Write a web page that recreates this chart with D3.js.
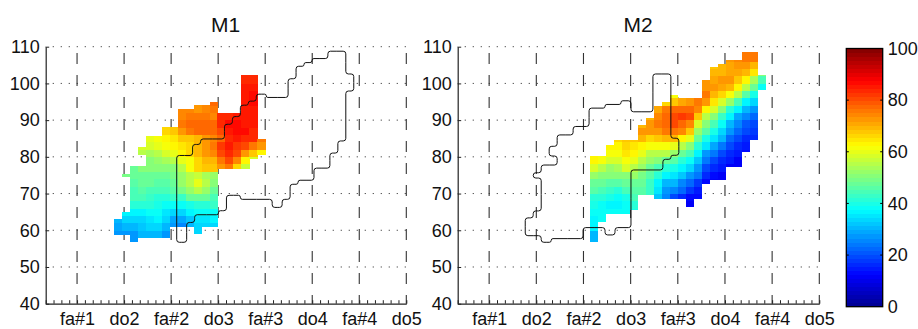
<!DOCTYPE html>
<html><head><meta charset="utf-8">
<script src="https://cdn.jsdelivr.net/npm/d3@7"></script>
<style>html,body{margin:0;padding:0;background:#fff}svg{display:block}text{font-family:"Liberation Sans",Arial,sans-serif;fill:#111}</style>
</head><body><svg id="c" width="918" height="329"></svg>
<script>
const _ = null;
const noteLabels = ["fa#1","do2","fa#2","do3","fa#3","do4","fa#4","do5"];
const noteSemitones = [0,6,12,18,24,30,36,42];
const dbTicks = [40,50,60,70,80,90,100,110];
const barTicks = [0,20,40,60,80,100];
const panelTitles = ["M1","M2"];
const gridStart = 4.72, gridStep = 1.015;   // semitone position of the first data column, and column pitch
const m2ColumnOffset = 8;
const rowStep = 2, rowBase = 56;

// [lowDb, highDb] extents of each column
const m1Spans = [
 [[58.8,63.1]],[[58.8,65],[74.5,75.4]],[[57,77.5]],[[58,77.5],[80.5,82.6]],[[58,85.7]],[[58,85.7]],[[58,88]],
 [[61,88]],[[61,93]],[[61,93]],[[59,94]],[[61,94]],[[61,95]],[[76.7,92]],[[76.7,92]],[[76.7,92]],
 [[76.7,102.3]],[[79.6,102.3]],[[80.7,84.8]]];
// rows from 56 dB upward in 2 dB steps, columns left to right
const m1Values = [
 [_,_,27,_,_,_,_,_,_,_,_,_,_,_,_,_,_,_,_],
 [28,28,28,30,31,30,28,_,_,_,33,_,_,_,_,_,_,_,_],
 [29,30,30,32,34,33,30,27,25,30,34,33,33,_,_,_,_,_,_],
 [31,33,33,33,35,36,33,29,29,32,35,35,36,_,_,_,_,_,_],
 [_,36,37,37,38,38,35,34,34,36,38,38,39,_,_,_,_,_,_],
 [_,_,42,42,41,40,39,39,38,40,42,42,43,_,_,_,_,_,_],
 [_,_,44,44,43,42,42,43,43,47,48,47,45,_,_,_,_,_,_],
 [_,_,45,46,45,44,44,46,49,53,56,52,48,_,_,_,_,_,_],
 [_,_,46,47,47,46,46,48,52,56,60,55,50,_,_,_,_,_,_],
 [_,49,48,48,48,47,47,49,52,55,57,54,52,_,_,_,_,_,_],
 [_,_,47,50,50,50,50,50,56,62,66,68,68,73,76,66,57,_,_],
 [_,_,_,_,51,53,54,55,60,62,66,70,70,76,80,74,63,58,_],
 [_,_,_,56,54,56,58,60,63,67,70,72,74,80,83,80,73,68,64],
 [_,_,_,58,58,60,61,63,65,66,70,73,76,82,85,82,80,76,72],
 [_,_,_,_,60,62,64,65,68,68,70,72,74,78,83,85,84,83,76],
 [_,_,_,_,_,_,66,68,73,76,77,77,77,80,85,86,86,84,_],
 [_,_,_,_,_,_,_,_,76,77,78,77,77,84,86,86,85,85,_],
 [_,_,_,_,_,_,_,_,74,75,76,75,74,83,84,85,85,85,_],
 [_,_,_,_,_,_,_,_,74,74,72,74,76,_,_,_,85,85,_],
 [_,_,_,_,_,_,_,_,_,_,_,_,78,_,_,_,85,86,_],
 [_,_,_,_,_,_,_,_,_,_,_,_,_,_,_,_,85,86,_],
 [_,_,_,_,_,_,_,_,_,_,_,_,_,_,_,_,85,85,_],
 [_,_,_,_,_,_,_,_,_,_,_,_,_,_,_,_,83,84,_],
 [_,_,_,_,_,_,_,_,_,_,_,_,_,_,_,_,83,84,_]];

const m2Spans = [
 [[57,80.1]],[[62.4,80.1]],[[64.5,83.1]],[[64.5,84.6]],[[64.5,84.6]],[[65.6,84.6]],[[69.8,88.6]],[[69.8,90.7]],
 [[68.7,93.8]],[[68.7,94.9]],[[68.7,96.8]],[[68.7,95.9]],[[66.5,95.9]],[[68.7,95.9]],[[72.8,101]],[[73.9,104.4]],
 [[73.9,105.4]],[[77.2,106.5]],[[77.2,106.5]],[[81.3,108.5]],[[84.6,108.5]],[[98.2,102.3]]];
const m2Values = [
 [30,_,_,_,_,_,_,_,_,_,_,_,_,_,_,_,_,_,_,_,_,_],
 [31,_,_,_,_,_,_,_,_,_,_,_,_,_,_,_,_,_,_,_,_,_],
 [36,_,_,_,_,_,_,_,_,_,_,_,_,_,_,_,_,_,_,_,_,_],
 [37,38,_,_,_,_,_,_,_,_,_,_,_,_,_,_,_,_,_,_,_,_],
 [38,39,38,38,38,40,_,_,_,_,_,_,_,_,_,_,_,_,_,_,_,_],
 [40,39,37,36,38,42,_,_,_,_,_,_,12,_,_,_,_,_,_,_,_,_],
 [42,42,40,39,40,44,46,43,32,25,20,17,14,13,_,_,_,_,_,_,_,_],
 [46,44,43,42,44,46,46,43,35,28,25,22,18,15,_,_,_,_,_,_,_,_],
 [48,47,46,46,47,48,47,43,36,31,30,26,22,18,13,11,11,_,_,_,_,_],
 [52,50,50,50,51,52,49,46,41,37,35,32,28,24,17,13,12,_,_,_,_,_],
 [58,55,53,54,58,56,52,48,44,42,40,37,33,27,20,17,15,12,12,_,_,_],
 [64,62,59,59,62,60,55,52,50,47,46,42,38,32,24,20,17,15,12,_,_,_],
 [64,62,62,61,65,64,60,56,56,56,52,47,44,36,28,24,20,17,15,13,_,_],
 [_,_,63,64,67,65,64,62,61,62,60,55,50,42,35,29,24,20,17,15,_,_],
 [_,_,_,66,68,68,70,66,68,70,70,64,60,48,40,35,30,23,19,17,16,_],
 [_,_,_,_,_,_,72,72,72,75,76,74,68,52,46,40,34,27,22,19,18,_],
 [_,_,_,_,_,_,70,72,75,78,80,78,74,58,50,45,38,31,25,21,20,_],
 [_,_,_,_,_,_,_,70,74,78,81,82,81,68,56,50,43,36,29,25,23,_],
 [_,_,_,_,_,_,_,_,71,75,77,78,77,74,64,58,50,42,36,30,28,_],
 [_,_,_,_,_,_,_,_,_,66,68,71,73,75,72,65,59,52,44,36,33,_],
 [_,_,_,_,_,_,_,_,_,_,62,_,_,_,75,70,66,62,56,46,40,_],
 [_,_,_,_,_,_,_,_,_,_,_,_,_,_,72,72,71,69,64,56,47,38],
 [_,_,_,_,_,_,_,_,_,_,_,_,_,_,72,71,72,73,68,63,54,44],
 [_,_,_,_,_,_,_,_,_,_,_,_,_,_,_,70,70,71,71,70,65,50],
 [_,_,_,_,_,_,_,_,_,_,_,_,_,_,_,68,70,71,72,72,70,_],
 [_,_,_,_,_,_,_,_,_,_,_,_,_,_,_,_,_,73,74,75,75,_],
 [_,_,_,_,_,_,_,_,_,_,_,_,_,_,_,_,_,_,_,76,76,_]];

const jetStops = [[0,"#00008f"],[12.5,"#0000ff"],[37.5,"#00ffff"],[62.5,"#ffff00"],[87.5,"#ff0000"],[100,"#800000"]];
const jetLine = d3.scaleLinear().domain(jetStops.map(d=>d[0])).range(jetStops.map(d=>d[1])).interpolate(d3.interpolateRgb);
const jet64 = d3.range(64).map(i=>jetLine((i+0.5)/64*100));
const color = d3.scaleQuantize().domain([0,100]).range(jet64);

const svg = d3.select("#c");
const panels = [
  {title:panelTitles[0], left:45.7, right:406.3, values:m1Values, spans:m1Spans, offset:0, other:m2Spans, otherOffset:m2ColumnOffset},
  {title:panelTitles[1], left:457.7, right:819.3, values:m2Values, spans:m2Spans, offset:m2ColumnOffset, other:m1Spans, otherOffset:0}
];
const yScale = d3.scaleLinear().domain([40,110]).range([303.7,46.7]);
const cx = (i,off)=>gridStart+(i+off)*gridStep;

function outlineLoops(spans){
  const levels = [...new Set(spans.flat(2))].sort(d3.ascending);
  const filled = (c,j)=>c>=0&&c<spans.length&&j>=0&&j<levels.length-1&&
    spans[c].some(s=>s[0]<=levels[j]&&s[1]>=levels[j+1]);
  const edges = [];
  spans.forEach((_s,c)=>{
    for(let j=0;j<levels.length-1;j++){
      if(!filled(c,j)) continue;
      if(!filled(c,j-1)) edges.push([c,j,c+1,j]);
      if(!filled(c+1,j)) edges.push([c+1,j,c+1,j+1]);
      if(!filled(c,j+1)) edges.push([c+1,j+1,c,j+1]);
      if(!filled(c-1,j)) edges.push([c,j+1,c,j]);
    }
  });
  const from = d3.group(edges,e=>e[0]+","+e[1]);
  const used = new Set(), loops=[];
  for(const start of edges){
    if(used.has(start)) continue;
    const loop=[]; let e=start;
    while(e&&!used.has(e)){
      used.add(e); loop.push(e);
      const opts=(from.get(e[2]+","+e[3])||[]).filter(o=>!used.has(o));
      e=opts[0];
    }
    const merged=[];
    loop.forEach(ed=>{
      const p=merged[merged.length-1];
      if(p&&Math.sign(p[2]-p[0])===Math.sign(ed[2]-ed[0])&&Math.sign(p[3]-p[1])===Math.sign(ed[3]-ed[1])){p[2]=ed[2];p[3]=ed[3];}
      else merged.push(ed.slice());
    });
    loops.push({merged,levels});
  }
  return loops;
}

function outlinePath(loop,x,off,grow,radius){
  const {merged,levels}=loop, n=merged.length;
  const pts=merged.map((e,i)=>{
    const prev=merged[(i-1+n)%n];
    const nrm=q=>[Math.sign(q[3]-q[1]),Math.sign(q[2]-q[0])];
    const a=nrm(prev),b=nrm(e);
    return [x(cx(e[0],off))+grow*(a[0]+b[0]), yScale(levels[e[1]])+grow*(a[1]+b[1])];
  });
  const p=d3.path();
  const mid=(a,b)=>[(a[0]+b[0])/2,(a[1]+b[1])/2];
  const m0=mid(pts[n-1],pts[0]);
  p.moveTo(m0[0],m0[1]);
  for(let i=0;i<n;i++){
    const a=pts[i],b=pts[(i+1)%n],pr=pts[(i-1+n)%n];
    const r=Math.min(radius,Math.hypot(a[0]-b[0],a[1]-b[1])/2,Math.hypot(a[0]-pr[0],a[1]-pr[1])/2);
    const m=mid(a,b);
    p.arcTo(a[0],a[1],m[0],m[1],r);
    p.lineTo(m[0],m[1]);
  }
  p.closePath();
  return p.toString();
}

panels.forEach(P=>{
  const x=d3.scaleLinear().domain([-4,42]).range([P.left,P.right]);
  const g=svg.append("g");
  // grid
  g.append("g").selectAll("line").data(dbTicks.slice(1)).join("line")
    .attr("x1",P.left).attr("x2",P.right).attr("y1",d=>yScale(d)).attr("y2",d=>yScale(d))
    .attr("stroke","#444").attr("stroke-width",1).attr("stroke-dasharray","1.2 6.8").attr("stroke-dashoffset",-7);
  g.append("g").selectAll("line").data(noteSemitones).join("line")
    .attr("x1",d=>x(d)).attr("x2",d=>x(d)).attr("y1",yScale(110)).attr("y2",yScale(40))
    .attr("stroke","#333").attr("stroke-width",1.1).attr("stroke-dasharray","11 11").attr("stroke-dashoffset",15.7);
  // heat cells
  const cells=[];
  P.values.forEach((row,r)=>row.forEach((v,c)=>{
    if(v===null) return;
    const lo=rowBase+r*rowStep, hi=lo+rowStep;
    P.spans[c].forEach(s=>{
      const a=Math.max(lo,s[0]), b=Math.min(hi,s[1]);
      if(b>a) cells.push({c,a,b,v});
    });
  }));
  g.append("g").attr("shape-rendering","crispEdges").selectAll("rect").data(cells).join("rect")
    .attr("x",d=>x(cx(d.c,P.offset))).attr("width",d=>x(cx(d.c+1,P.offset))-x(cx(d.c,P.offset))+0.3)
    .attr("y",d=>yScale(d.b)).attr("height",d=>yScale(d.a)-yScale(d.b)+0.3)
    .attr("fill",d=>color(d.v));
  // outline of the other panel's region
  g.append("g").selectAll("path").data(outlineLoops(P.other)).join("path")
    .attr("d",d=>outlinePath(d,x,P.otherOffset,1,2.6))
    .attr("fill","none").attr("stroke","#111").attr("stroke-width",1);
  // axes
  const axB=d3.axisBottom(x).tickValues(noteSemitones).tickSizeInner(0).tickSizeOuter(0).tickPadding(9)
    .tickFormat((d,i)=>noteLabels[i]);
  const gx=g.append("g").attr("transform",`translate(0,${yScale(40)})`).call(axB);
  gx.selectAll("text").attr("font-size",18).attr("fill","#111").attr("font-family",'"Liberation Sans"');
  gx.select(".domain").attr("stroke","#222").attr("stroke-width",1.2);
  const minor=d3.axisBottom(x).tickValues(d3.range(-4,43)).tickSizeInner(-3.5).tickSizeOuter(0).tickFormat("");
  const gm=g.append("g").attr("transform",`translate(0,${yScale(40)})`).call(minor);
  gm.select(".domain").remove();
  gm.selectAll("line").attr("stroke","#222").attr("stroke-width",1);
  const axL=d3.axisLeft(yScale).tickValues(dbTicks).tickSizeInner(-3.5).tickSizeOuter(0).tickPadding(6);
  const gy=g.append("g").attr("transform",`translate(${P.left},0)`).call(axL);
  gy.selectAll("text").attr("font-size",18).attr("fill","#111").attr("font-family",'"Liberation Sans"');
  gy.select(".domain").attr("stroke","#222").attr("stroke-width",1.2);
  gy.selectAll("line").attr("stroke","#222").attr("stroke-width",1);
  g.append("text").attr("x",(P.left+P.right)/2-0.5).attr("y",32).attr("text-anchor","middle")
    .attr("font-size",21).text(P.title);
});

// colour bar
const barY=d3.scaleLinear().domain([0,100]).range([306.7,48.5]);
const barLeft=846.3, barRight=882.7;
const bar=svg.append("g");
const bands=d3.range(64);
bar.append("g").attr("shape-rendering","crispEdges").selectAll("rect").data(bands).join("rect")
  .attr("x",barLeft).attr("width",barRight-barLeft)
  .attr("y",i=>barY((i+1)/64*100)).attr("height",i=>barY(i/64*100)-barY((i+1)/64*100)+0.4)
  .attr("fill",i=>jet64[i]);
bar.append("rect").attr("x",barLeft).attr("y",barY(100)).attr("width",barRight-barLeft).attr("height",barY(0)-barY(100))
  .attr("fill","none").attr("stroke","#000").attr("stroke-width",1.3);
bar.selectAll(".bt").data(barTicks.slice(1,-1)).join("path").attr("class","bt")
  .attr("d",d=>`M${barLeft},${barY(d)}h2.5M${barRight},${barY(d)}h-2.5`).attr("stroke","#000").attr("stroke-width",1);
const axR=d3.axisRight(barY).tickValues(barTicks).tickSize(0).tickPadding(5);
const gb=bar.append("g").attr("transform",`translate(${barRight},0)`).call(axR);
gb.select(".domain").remove();
gb.selectAll("text").attr("font-size",18).attr("fill","#111").attr("font-family",'"Liberation Sans"');
</script></body></html>
